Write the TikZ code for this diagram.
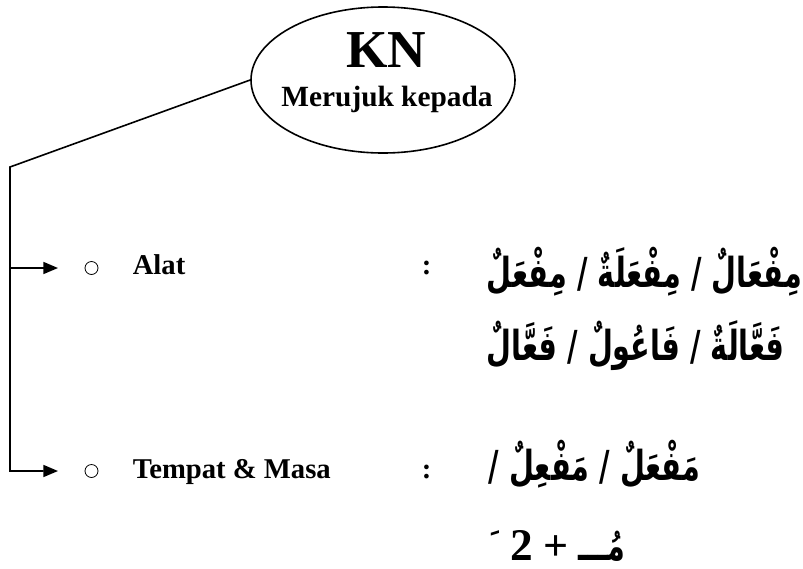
\documentclass[tikz,border=0pt]{standalone}
\usepackage{fontspec}
\setmainfont{Liberation Serif}
\newfontfamily\arabicfont[Script=Arabic,FakeStretch=0.695]{DejaVu Sans}
\TeXXeTstate=1
\usetikzlibrary{shapes.geometric,arrows.meta}
\begin{document}
\begin{tikzpicture}[x=0.75pt,y=-0.75pt,line width=1.2pt,
  lbl/.style={anchor=base west,inner sep=0pt,font=\fontsize{21.5}{24}\selectfont\bfseries},
  ar/.style={anchor=base west,inner sep=0pt,font=\fontsize{31}{36}\selectfont\arabicfont\bfseries},
  bulletmark/.style={circle,draw,line width=0.6pt,minimum size=9.75pt,inner sep=0pt},
  tipline/.style={-{Triangle[length=11pt,width=9pt]}}]
\useasboundingbox (0,0) rectangle (803,568);
\node[ellipse,draw,minimum width=198pt,minimum height=109.5pt,inner sep=0pt] (kn) at (383,80) {};
\node[anchor=base,inner sep=0pt,font=\fontsize{40}{44}\selectfont\bfseries] (knt) at (386,67) {KN};
\node[anchor=base,inner sep=0pt,font=\fontsize{22}{26}\selectfont\bfseries] (meru) at (387,106) {Merujuk kepada};
\coordinate (top) at (10,167);
\coordinate (t1) at (58,268);
\coordinate (t2) at (58,471);
\draw[tipline] (kn.west) -- (top) -- (top |- t2) -- (t2);
\draw[tipline] (top |- t1) -- (t1);
\node[bulletmark] (b1) at (91.5,268) {};
\node[bulletmark] (b2) at (91.5,471) {};
\node[lbl] (alat) at (132,274) {Alat};
\node[lbl] (tempat) at (132,478) {Tempat \& Masa};
\node[lbl] (c1) at (421,274) {:};
\node[lbl] (c2) at (421,478) {:};
\node[ar] (l1) at (486,287) {\beginR مِفْعَالٌ / مِفْعَلَةٌ / مِفْعَلٌ\endR};
\node[ar] (l2) at (486,360) {\beginR فَعَّالَةٌ / فَاعُولٌ / فَعَّالٌ\endR};
\node[ar] (l3) at (488,480) {\beginR مَفْعَلٌ / مَفْعِلٌ /\endR};
\node[ar] (l4) at (490,560) {\beginR مُـــ {\rmfamily\bfseries\fontsize{33}{36}\selectfont +} {\rmfamily\bfseries\fontsize{34}{36}\selectfont 2} ^^^^fe76\endR};
\end{tikzpicture}
\end{document}
